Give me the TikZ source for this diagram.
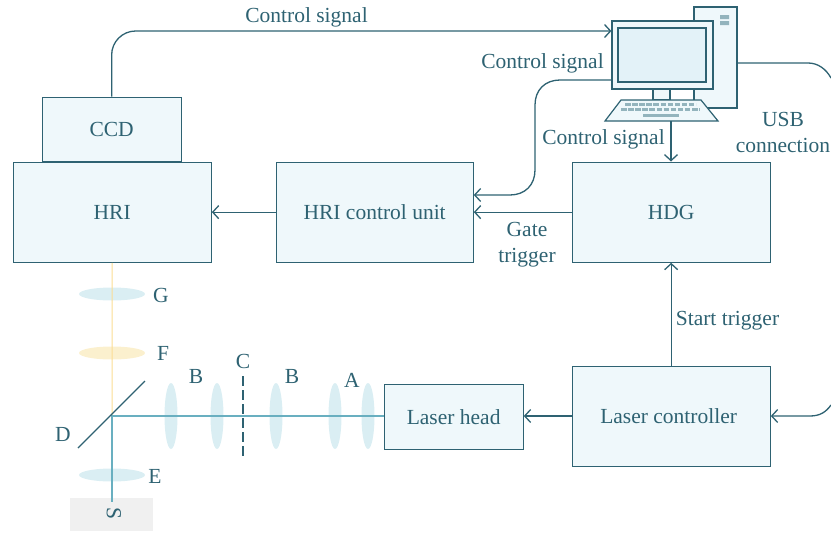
\documentclass[tikz,border=0pt]{standalone}
\usepackage{fontspec}
\setmainfont{Liberation Serif}
\usetikzlibrary{arrows.meta,shapes.geometric}
\definecolor{ink}{HTML}{2E6272}
\definecolor{boxfill}{HTML}{EFF8FB}
\definecolor{scr}{HTML}{E3F2F8}
\definecolor{lens}{HTML}{DAEEF3}
\definecolor{ylens}{HTML}{FBF0CE}
\definecolor{beam}{HTML}{69AFC0}
\definecolor{ybeam}{HTML}{FBDD94}
\definecolor{keyc}{HTML}{93B4BD}
\tikzset{
  x=1pt,y=-1pt,
  lbl/.style={text=ink,font=\fontsize{21.5}{26}\selectfont,inner sep=0pt,align=center},
  blockbox/.style={draw=ink,fill=boxfill,line width=1.3pt,anchor=north west,inner sep=0pt,lbl},
  conn/.style={draw=ink,line width=1.3pt},
  arr/.style={conn,-{Straight Barb[length=6pt,width=13pt,line width=1.3pt]}},
  hlens/.style={fill=lens,draw=none,ellipse,minimum width=66pt,minimum height=13pt,inner sep=0pt},
  vlens/.style={fill=lens,draw=none,ellipse,minimum width=13pt,minimum height=66pt,inner sep=0pt},
  comp/.style={draw=ink,fill=boxfill,line width=1.2pt},
  keyrow/.style={draw=keyc,line width=2.6pt,dash pattern=on 5.5pt off 1.6pt},
}
\begin{document}
\begin{tikzpicture}
\useasboundingbox (0,0) rectangle (831,533);
% sample
\node[fill=black!6,minimum width=83pt,minimum height=33pt,inner sep=0pt] (sample) at (111.5,514.5) {};
% optics beams
\coordinate (mir) at (112,416);
\coordinate (sbeam) at (112,502);
% boxes
\node[blockbox,minimum width=198pt,minimum height=100pt] (hri) at (12.5,161.5) {HRI};
\node[blockbox,minimum width=139pt,minimum height=64pt] (ccd) at (41.5,96.5) {CCD};
\node[blockbox,minimum width=197pt,minimum height=100pt] (ctrl) at (275.5,161.5) {HRI control unit};
\node[blockbox,minimum width=198pt,minimum height=100pt] (hdg) at (571.5,161.5) {HDG};
\node[blockbox,minimum width=198pt,minimum height=100pt] (lc) at (571.5,365.5) {\kern-5pt Laser controller};
\node[blockbox,minimum width=139pt,minimum height=65pt] (lh) at (383.5,383.5) {Laser head};
% lenses and beams
\node[hlens] (g) at (112,294) {};
\node[hlens,fill=ylens] (f) at (112,353) {};
\node[hlens] (e) at (112,475) {};
\node[vlens] (l1) at (171,416) {};
\node[vlens] (l2) at (217,416) {};
\node[vlens] (l3) at (276,416) {};
\node[vlens] (l4) at (335,416) {};
\node[vlens] (l5) at (368,416) {};
\draw[ybeam,line width=1pt] (hri.south) -- (mir);
\draw[beam,line width=1.1pt] (lh.west |- mir) -- (mir) -- (sbeam);
% mirror and stop
\coordinate (m1) at (78,448); \coordinate (m2) at (145,381);
\draw[ink,line width=1.3pt] (m1) -- (m2);
\coordinate (c1) at (243,376); \coordinate (c2) at (243,459);
\draw[ink,line width=1.3pt,dash pattern=on 10pt off 4pt] (c1) -- (c2);
% computer
\draw[comp] (694,7) rectangle (737,108);
\fill[keyc] (720,15) rectangle (729,19) (720,21) rectangle (729,25);
\draw[comp] (653,89) rectangle (670,100);
\node[draw=ink,fill=boxfill,line width=1.2pt,minimum width=101pt,minimum height=68pt,inner sep=0pt] (monitor) at (662.5,55) {};
\draw[draw=ink,fill=scr,line width=1.2pt] (618,28) rectangle (706,82);
\draw[comp] (621,100) -- (701,100) -- (718,121) -- (605,121) -- cycle;
\coordinate (kb) at (671,121);
\draw[keyrow] (625,104.5) -- (696,104.5);
\draw[keyrow] (621,109.5) -- (700,109.5);
\draw[keyc,line width=2.6pt] (643,115.5) -- (679,115.5);
% connectors
\draw[arr] (ctrl.west) -- (hri.east);
\draw[arr] (hdg.west) -- (ctrl.east);
\draw[arr] (lc.west |- 0,416) -- (lh.east |- 0,416);
\draw[arr] (lc.north) -- (hdg.south);
\draw[arr] (kb) -- (hdg.north -| kb);
\draw[arr] (ccd.north) -- ++(0,-41.5) arc[start angle=180,end angle=90,radius=24pt] -- (monitor.west |- 0,31);
\draw[arr] (monitor.west |- 0,80) -- (560,80) .. controls (545,80) and (535,90) .. (535,105) -- (535,170) .. controls (535,185) and (525,195) .. (510,195) -- (ctrl.east |- 0,195);
\coordinate (usbA) at (737,63);
\coordinate (usbB) at (831,78);
\coordinate (usbC) at (831,405);
\draw[conn] (usbA) -- (808,63) .. controls (818,63) and (826,69) .. (usbB);
\draw[arr] (usbC) .. controls (826,412) and (820,416) .. (810,416) -- (lc.east |- 0,416);
% labels
\node[lbl] (t1) at (306.5,17) {Control signal};
\node[lbl] (t2) at (542.5,63.5) {Control signal};
\node[lbl] (t3) at (603.5,139) {Control signal};
\node[lbl] (t4) at (783,132) {USB\\connection};
\node[lbl] (t5) at (527,244.5) {Gate\\trigger};
\node[lbl] (t6) at (727.5,321) {Start trigger};
\node[lbl] (la) at (352,380) {A};
\node[lbl] (lb1) at (196,376) {B};
\node[lbl] (lb2) at (292,376) {B};
\node[lbl] (lc2) at (243,361) {C};
\node[lbl] (ld) at (63,434) {D};
\node[lbl] (le) at (155,476) {E};
\node[lbl] (lf) at (163,353) {F};
\node[lbl] (lg) at (161,295) {G};
\node[lbl,rotate=-90] (ls) at (114,513) {S};
\end{tikzpicture}
\end{document}
